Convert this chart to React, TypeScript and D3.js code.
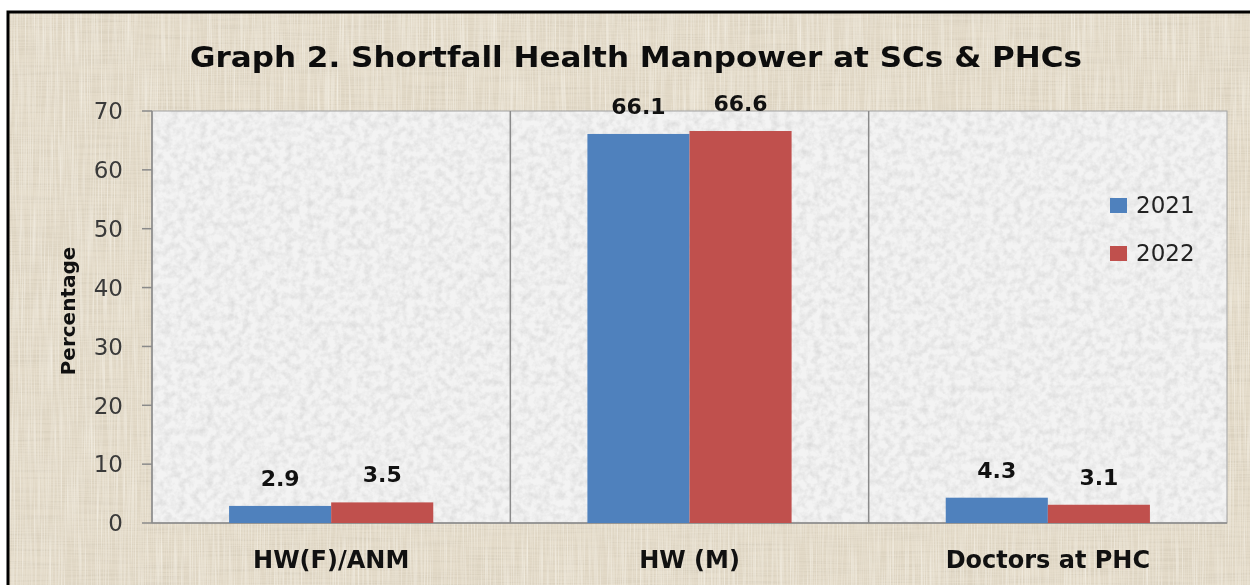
import React from "react";
import { scaleBand, scaleLinear } from "d3";

const categories = ["HW(F)/ANM", "HW (M)", "Doctors at PHC"];
const series = ["2021", "2022"];
const values2021 = [2.9, 66.1, 4.3];
const values2022 = [3.5, 66.6, 3.1];
const yTicks = [0, 10, 20, 30, 40, 50, 60, 70];
const colors = ["#4f81bd", "#c0504d"];

const W = 1250;
const H = 585;
const plot = { left: 152, top: 111, right: 1227, bottom: 523 };

const App = () => {
  const x = scaleBand().domain(categories).range([plot.left, plot.right]).padding(0);
  const inner = scaleBand().domain(series).range([0, x.bandwidth()]).paddingInner(0).paddingOuter(0.755);
  const y = scaleLinear().domain([0, 70]).range([plot.bottom, plot.top]);
  const data = [values2021, values2022];
  const font = "'DejaVu Sans', sans-serif";

  return (
    <svg width={W} height={H} style={{ position: "fixed", left: 0, top: 0 }} fontFamily={font}>
      <defs>
        <filter id="linen" x="0" y="0" width="100%" height="100%">
          <feTurbulence type="fractalNoise" baseFrequency="0.015 0.7" numOctaves="2" seed="4" result="h" />
          <feColorMatrix in="h" type="matrix"
            values="0 0 0 0 0.62  0 0 0 0 0.56  0 0 0 0 0.45  1.5 0 0 0 -0.6" result="hc" />
          <feTurbulence type="fractalNoise" baseFrequency="0.7 0.015" numOctaves="2" seed="9" result="v" />
          <feColorMatrix in="v" type="matrix"
            values="0 0 0 0 0.98  0 0 0 0 0.96  0 0 0 0 0.9  1.5 0 0 0 -0.6" result="vc" />
          <feMerge>
            <feMergeNode in="hc" />
            <feMergeNode in="vc" />
          </feMerge>
        </filter>
        <filter id="speck" x="0" y="0" width="100%" height="100%">
          <feTurbulence type="fractalNoise" baseFrequency="0.14" numOctaves="3" seed="2" result="n" />
          <feColorMatrix in="n" type="matrix"
            values="0 0 0 0 0.6  0 0 0 0 0.6  0 0 0 0 0.6  1.5 0 0 0 -0.55" />
        </filter>
      </defs>

      {/* background */}
      <rect x={0} y={0} width={W} height={H} fill="#ffffff" />
      <rect x={8} y={12} width={W} height={H} fill="#e3dac8" />
      <rect x={8} y={12} width={W} height={H} filter="url(#linen)" opacity={0.75} />
      <rect x={8} y={12} width={W + 10} height={H + 10} fill="none" stroke="#000" strokeWidth={3} />

      {/* title */}
      <text x={190} y={67} fontSize={28} fontWeight="bold" fill="#0d0d0d" textLength={892} lengthAdjust="spacingAndGlyphs">
        Graph 2. Shortfall Health Manpower at SCs &amp; PHCs
      </text>

      {/* plot area */}
      <rect x={plot.left} y={plot.top} width={plot.right - plot.left} height={plot.bottom - plot.top} fill="#f3f3f3" />
      <rect x={plot.left} y={plot.top} width={plot.right - plot.left} height={plot.bottom - plot.top} filter="url(#speck)" opacity={0.7} />
      <rect x={plot.left} y={plot.top} width={plot.right - plot.left} height={plot.bottom - plot.top} fill="none" stroke="#a0a0a0" strokeWidth={1} />

      {/* category dividers */}
      {categories.slice(1).map(c => (
        <line key={c} x1={x(c)} x2={x(c)} y1={plot.top} y2={plot.bottom} stroke="#8a8a8a" strokeWidth={1.5} />
      ))}

      {/* y axis */}
      <line x1={plot.left} x2={plot.left} y1={plot.top} y2={plot.bottom} stroke="#8a8a8a" strokeWidth={1.5} />
      <line x1={plot.left} x2={plot.right} y1={plot.bottom} y2={plot.bottom} stroke="#8a8a8a" strokeWidth={1.5} />
      {yTicks.map(t => (
        <g key={t}>
          <line x1={plot.left - 10} x2={plot.left} y1={y(t)} y2={y(t)} stroke="#8a8a8a" strokeWidth={1.5} />
          <text x={123} y={y(t)} dy="0.36em" textAnchor="end" fontSize={23} fill="#3a3a3a">{t}</text>
        </g>
      ))}
      <text transform={`translate(75,311) rotate(-90)`} textAnchor="middle" fontSize={20} fontWeight="bold" fill="#111">
        Percentage
      </text>

      {/* bars */}
      {categories.map((c, i) => (
        <g key={c}>
          {series.map((s, j) => {
            const v = data[j][i];
            const bx = (x(c) as number) + (inner(s) as number);
            return (
              <g key={s}>
                <rect x={bx} y={y(v)} width={inner.bandwidth()} height={y(0) - y(v)} fill={colors[j]} />
                <text x={bx + inner.bandwidth() / 2} y={y(v) - 20} textAnchor="middle" fontSize={22} fontWeight="bold" fill="#111">
                  {v.toFixed(1)}
                </text>
              </g>
            );
          })}
          <text x={(x(c) as number) + x.bandwidth() / 2} y={568} textAnchor="middle" fontSize={24} fontWeight="bold" fill="#111">
            {c}
          </text>
        </g>
      ))}

      {/* legend */}
      {series.map((s, j) => (
        <g key={s} transform={`translate(1110,${198 + j * 48})`}>
          <rect x={0} y={0} width={17} height={15} fill={colors[j]} />
          <text x={26} y={15} fontSize={23} fill="#222">{s}</text>
        </g>
      ))}
    </svg>
  );
};

export default App;
